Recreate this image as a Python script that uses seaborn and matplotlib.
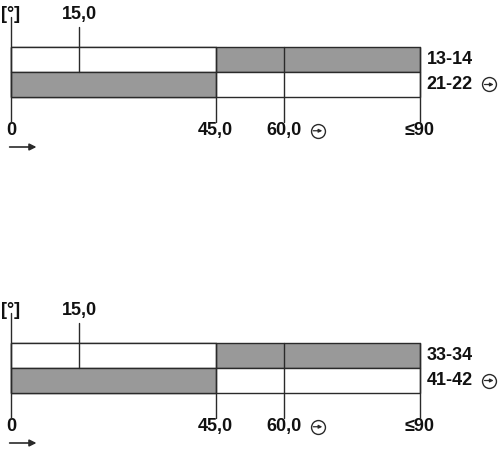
import matplotlib
matplotlib.use("Agg")
import matplotlib.pyplot as plt
import seaborn as sns

sns.set_style("white")
plt.rcParams['font.family'] = ['Liberation Sans', 'DejaVu Sans']

# switching diagram data
contacts_top = ["13-14", "21-22"]
contacts_bottom = ["33-34", "41-42"]
full_travel = [90, 90]
switch_point = [45, 45]
row_colors_full = ["#999999", "white"]   # colour of the 45..90 segment
row_colors_first = ["white", "#999999"]  # colour of the 0..45 segment
bottom_ticks = [0, 45, 60, 90]
bottom_labels = ["0", "45,0", "60,0", "≤90"]
top_tick = 15
top_label = "15,0"
marked_rows = [1]  # rows with the circled symbol

LINE = "#2a2a2a"
TXT = "#111111"
FS = 13


def circle_mark(ax, x, y):
    # circled symbol with a small arrow inside
    ax.plot([x], [y], marker="o", ms=10, mfc="white", mec=LINE, mew=1.0,
            clip_on=False, zorder=6)
    ax.annotate("", xy=(x + 1.0, y), xytext=(x - 1.0, y),
                arrowprops=dict(arrowstyle="-|>", color=LINE, lw=0.9,
                                mutation_scale=5, shrinkA=0, shrinkB=0),
                annotation_clip=False, zorder=7)


def draw_panel(ax, contacts):
    sns.barplot(x=full_travel, y=contacts, hue=contacts, palette=row_colors_full,
                orient="h", width=1.0, edgecolor=LINE, linewidth=1.0,
                legend=False, ax=ax)
    sns.barplot(x=switch_point, y=contacts, hue=contacts, palette=row_colors_first,
                orient="h", width=1.0, edgecolor=LINE, linewidth=1.0,
                legend=False, ax=ax)
    for p in ax.patches:
        p.set_clip_on(False)
    ax.set_xlim(0, 90)
    ax.set_ylim(1.5, -0.5)
    ax.axis("off")

    # vertical tick lines
    ax.plot([0, 0], [-1.7, 2.5], color=LINE, lw=1, clip_on=False, zorder=5)
    ax.plot([top_tick, top_tick], [-1.3, 0.5], color=LINE, lw=1, clip_on=False, zorder=5)
    for t in bottom_ticks[1:]:
        ax.plot([t, t], [-0.5, 2.5], color=LINE, lw=1, clip_on=False, zorder=5)

    # labels
    ax.text(0, -1.8, "[°]", ha="center", va="center", fontsize=FS,
            weight="bold", color=TXT, clip_on=False)
    ax.text(top_tick, -1.8, top_label, ha="center", va="center", fontsize=FS,
            weight="bold", color=TXT, clip_on=False)
    for t, lab in zip(bottom_ticks, bottom_labels):
        ax.text(t, 2.85, lab, ha="center", va="center", fontsize=FS,
                weight="bold", color=TXT, clip_on=False)
    circle_mark(ax, 67.5, 2.85)

    for i, c in enumerate(contacts):
        ax.text(91.5, i, c, ha="left", va="center", fontsize=FS,
                weight="bold", color=TXT, clip_on=False)
        if i in marked_rows:
            circle_mark(ax, 105.2, i)

    # direction arrow
    ax.annotate("", xy=(5.6, 3.5), xytext=(-0.3, 3.5),
                arrowprops=dict(arrowstyle="-|>", color=LINE, lw=1.2,
                                mutation_scale=10, shrinkA=0, shrinkB=0),
                annotation_clip=False)


fig = plt.figure(figsize=(5, 4.5), dpi=100)

ax_top = fig.add_axes([11 / 500, 1 - 97 / 450, 409 / 500, 50 / 450])
draw_panel(ax_top, contacts_top)

ax_bottom = fig.add_axes([11 / 500, 1 - 393 / 450, 409 / 500, 50 / 450])
draw_panel(ax_bottom, contacts_bottom)

fig.savefig("out.png", dpi=100)
